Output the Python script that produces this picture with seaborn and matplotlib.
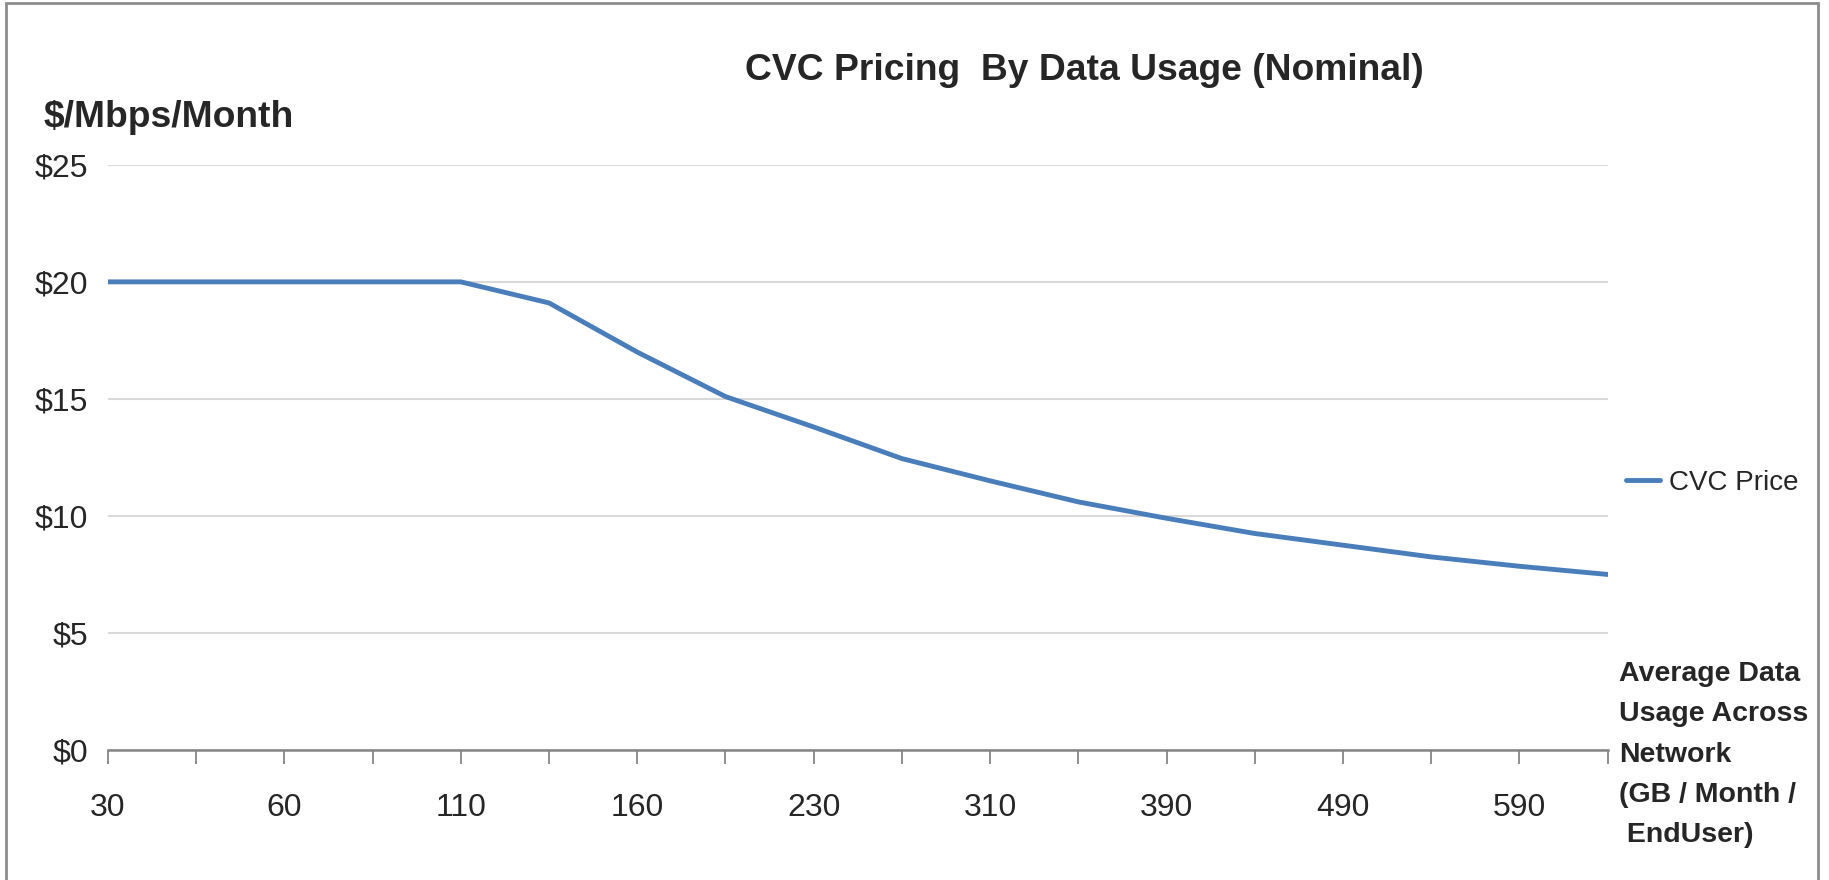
import pandas as pd
import matplotlib.pyplot as plt
import seaborn as sns
from matplotlib.patches import Rectangle

sns.set_theme(style="white")
plt.rcParams["font.family"] = ["Liberation Sans", "DejaVu Sans"]

# data (every other category label is hidden in the original)
usage = ["30", "45", "60", "85", "110", "135", "160", "195", "230",
         "270", "310", "350", "390", "440", "490", "540", "590", "640"]
shown_labels = ["30", "60", "110", "160", "230", "310", "390", "490", "590"]
price = [20.0, 20.0, 20.0, 20.0, 20.0, 19.1, 17.0, 15.1, 13.8,
         12.45, 11.5, 10.6, 9.9, 9.25, 8.75, 8.25, 7.85, 7.5]
y_ticks = [0, 5, 10, 15, 20, 25]

df = pd.DataFrame({"Usage": usage, "Price": price})

fig = plt.figure(figsize=(18.29, 8.8), dpi=100)
ax = fig.add_axes([0.059, 0.1477, 0.82, 0.665])

sns.lineplot(data=df, x="Usage", y="Price", ax=ax, color="#4A7EBB",
             linewidth=3.5, label="CVC Price", sort=False)

ax.set_xlim(0, len(usage) - 1)
ax.set_ylim(0, 25)
ax.set_yticks(y_ticks)
ax.set_yticklabels([f"${v}" for v in y_ticks])
ax.set_xticks(range(len(usage)))
ax.set_xticklabels([u if u in shown_labels else "" for u in usage])
ax.set_xlabel("")
ax.set_ylabel("")

ax.grid(axis="y", color="#D9D9D9", linewidth=1.5)
ax.set_axisbelow(True)
for side in ["top", "right", "left"]:
    ax.spines[side].set_visible(False)
ax.spines["bottom"].set_color("#868686")
ax.spines["bottom"].set_linewidth(1.8)
ax.tick_params(axis="x", bottom=True, length=10, width=1.3, color="#868686",
               labelsize=23, pad=21)
ax.tick_params(axis="y", left=False, labelsize=23, pad=8)

ax.legend(loc="center left", bbox_to_anchor=(1.012, 0.457), frameon=False,
          fontsize=20, handlelength=1.25, handletextpad=0.3,
          borderaxespad=0, borderpad=0)

fig.text(0.593, 0.92, "CVC Pricing  By Data Usage (Nominal)", ha="center",
         va="center", fontsize=26.8, fontweight="bold")
fig.text(0.024, 0.867, "$/Mbps/Month", ha="left", va="center",
         fontsize=26.8, fontweight="bold")
fig.text(0.885, 0.249, "Average Data\nUsage Across\nNetwork\n(GB / Month /\n EndUser)",
         ha="left", va="top", fontsize=20.5, fontweight="bold", linespacing=1.72)

fig.patches.append(Rectangle((0.0035, -0.01), 0.9905, 1.0065, transform=fig.transFigure,
                             fill=False, edgecolor="#8C8C8C", linewidth=2))

fig.savefig("out.png", dpi=100)
